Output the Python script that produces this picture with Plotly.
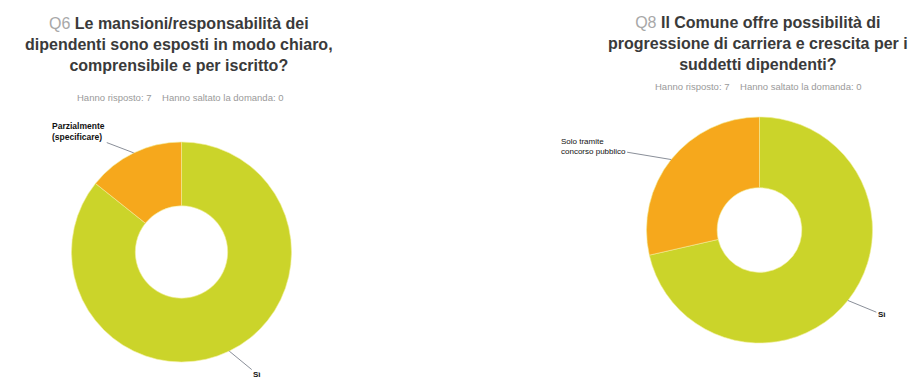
import math
import plotly.graph_objects as go

W, H = 910, 378

# Q6 responses
q6_labels = ["Sì", "Parzialmente (specificare)"]
q6_text = ["<b>Sì</b>", "<b>Parzialmente<br>(specificare)</b>"]
q6_values = [6, 1]

# Q8 responses
q8_labels = ["Sì", "Solo tramite concorso pubblico"]
q8_text = ["<b>Sì</b>", "Solo tramite<br>concorso pubblico"]
q8_values = [5, 2]

colors = ["#cbd42a", "#f6a81c"]

# pie geometry in pixels: (center x, center y, radius, hole)
q6_geom = (181.5, 252.0, 110.0, 0.42)
q8_geom = (759.5, 230.0, 113.0, 0.375)

# label offsets (pixels) from the slice edge to the label, and font sizes
q6_offsets = [(28, 23), (-55, -21)]
q8_offsets = [(34, 14), (-78, -13)]
q6_sizes = [8, 8.5]
q8_sizes = [8, 8]


def domain(geom):
    cx, cy, r, _ = geom
    return dict(x=[(cx - r) / W, (cx + r) / W],
                y=[1 - (cy + r) / H, 1 - (cy - r) / H])


def label_annotations(values, texts, geom, offsets, sizes):
    cx, cy, r, _ = geom
    total = sum(values)
    start = 0.0
    anns = []
    for v, t, (ax, ay), sz in zip(values, texts, offsets, sizes):
        mid = (start + v / 2) / total * 2 * math.pi  # clockwise from 12 o'clock
        start += v
        px = cx + r * math.sin(mid)
        py = cy - r * math.cos(mid)
        anns.append(dict(
            x=px / W, y=1 - py / H, xref="paper", yref="paper",
            text=t, showarrow=True, arrowhead=0, arrowwidth=1,
            arrowcolor="#8a8f99", ax=ax, ay=ay, standoff=0,
            align="left",
            font=dict(family="Liberation Sans, Arial", size=sz, color="#111"),
        ))
    return anns


fig = go.Figure()
for vals, labs, geom in [(q6_values, q6_labels, q6_geom), (q8_values, q8_labels, q8_geom)]:
    fig.add_trace(go.Pie(
        labels=labs, values=vals, hole=geom[3], sort=False,
        direction="clockwise", rotation=0,
        marker=dict(colors=colors, line=dict(color="#f2ee9a", width=0.6)),
        textinfo="none", hoverinfo="label+value", showlegend=False,
        domain=domain(geom),
    ))

title_font = dict(family="Liberation Sans, Arial", size=16, color="#3a3a3a")
sub_font = dict(family="Liberation Sans, Arial", size=9.5, color="#9a9a9a")

annotations = [
    dict(x=179 / W, y=1 - 13 / H, xref="paper", yref="paper", yanchor="top",
         xanchor="center", showarrow=False, align="center", font=title_font,
         text="<span style='color:#a8a8a8'>Q6</span> <b>Le mansioni/responsabilità dei<br>"
              "dipendenti sono esposti in modo chiaro,<br>comprensibile e per iscritto?</b>"),
    dict(x=180 / W, y=1 - 97 / H, xref="paper", yref="paper", yanchor="middle",
         xanchor="center", showarrow=False, font=sub_font,
         text="Hanno risposto: 7    Hanno saltato la domanda: 0"),
    dict(x=758 / W, y=1 - 12 / H, xref="paper", yref="paper", yanchor="top",
         xanchor="center", showarrow=False, align="center", font=title_font,
         text="<span style='color:#a8a8a8'>Q8</span> <b>Il Comune offre possibilità di<br>"
              "progressione di carriera e crescita per i<br>suddetti dipendenti?</b>"),
    dict(x=758 / W, y=1 - 87 / H, xref="paper", yref="paper", yanchor="middle",
         xanchor="center", showarrow=False, font=sub_font,
         text="Hanno risposto: 7    Hanno saltato la domanda: 0"),
]
annotations += label_annotations(q6_values, q6_text, q6_geom, q6_offsets, q6_sizes)
annotations += label_annotations(q8_values, q8_text, q8_geom, q8_offsets, q8_sizes)

fig.update_layout(
    width=W, height=H,
    margin=dict(l=0, r=0, t=0, b=0),
    paper_bgcolor="white", plot_bgcolor="white",
    annotations=annotations,
)

fig.write_html("out.html")
